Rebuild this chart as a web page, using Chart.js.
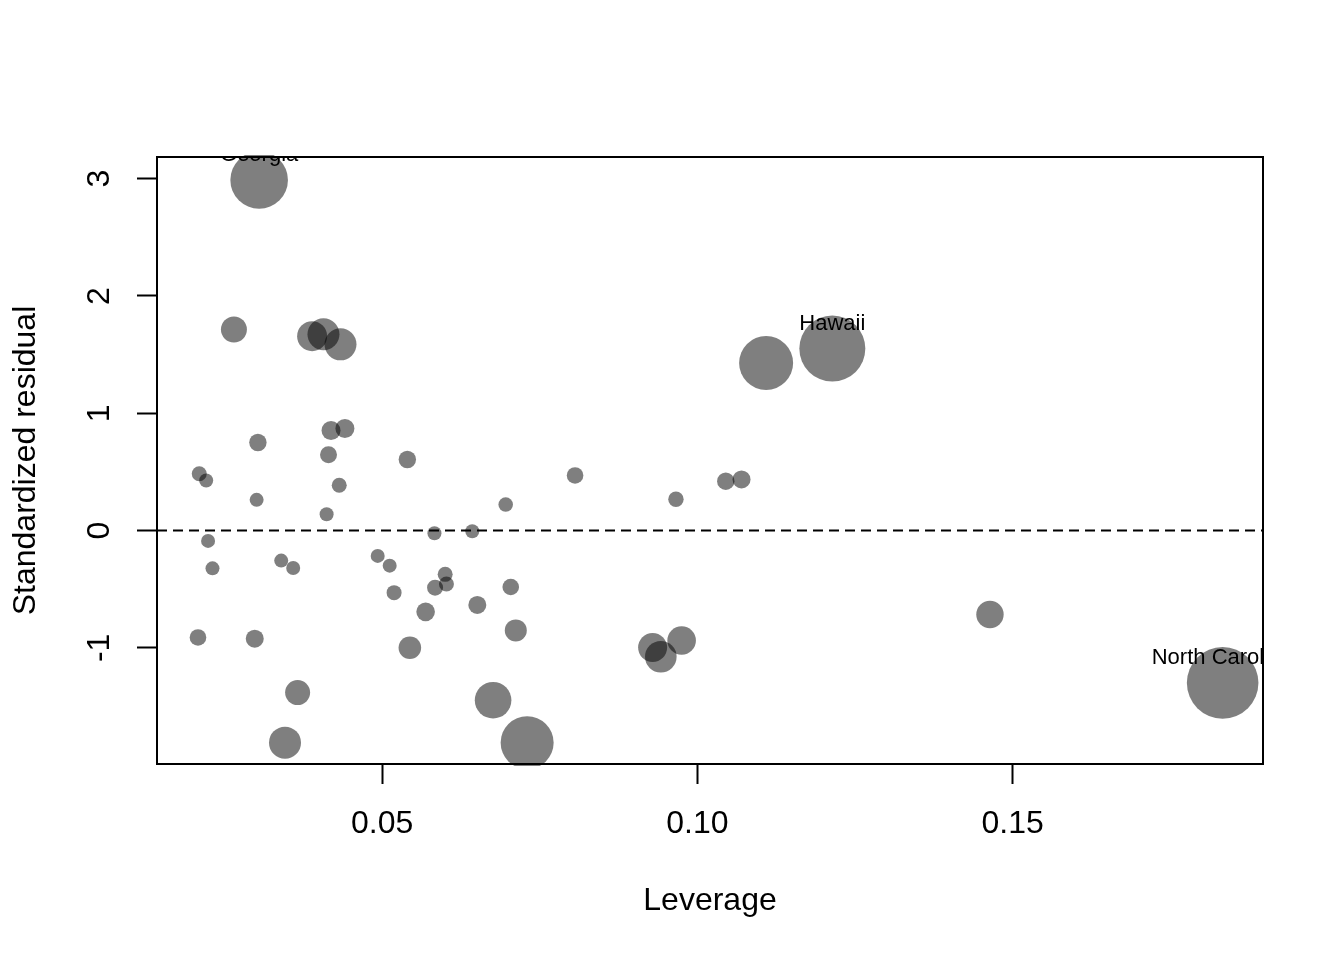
<!DOCTYPE html>
<html>
<head>
<meta charset="utf-8">
<script src="https://cdn.jsdelivr.net/npm/chart.js@4/dist/chart.umd.min.js"></script>
<style>
  html, body { margin: 0; padding: 0; background: #fff; }
  #wrap { width: 1344px; height: 960px; }
</style>
</head>
<body>
<div id="wrap"><canvas id="influence" width="1344" height="960"></canvas></div>
<script>
// leverage (hat values), standardized residuals and bubble size (Cook's distance) per state
const leverage = [
  0.0305, 0.0265, 0.0389, 0.0407, 0.0434, 0.0303, 0.0419, 0.0441, 0.0415, 0.0540,
  0.0210, 0.0221, 0.0301, 0.0432, 0.0412, 0.0224, 0.0231, 0.0340, 0.0359, 0.0583,
  0.0643, 0.0493, 0.0512, 0.0519, 0.0600, 0.0602, 0.0584, 0.0704, 0.0569, 0.0651,
  0.0712, 0.0544, 0.0208, 0.0298, 0.0366, 0.0346, 0.0676, 0.0730, 0.0806, 0.0696,
  0.0966, 0.1045, 0.1070, 0.0929, 0.0942, 0.0975, 0.1109, 0.1214, 0.1464, 0.1833
];
const stdResid = [
  2.989, 1.714, 1.657, 1.674, 1.588, 0.751, 0.854, 0.871, 0.646, 0.606,
  0.484, 0.427, 0.262, 0.387, 0.139, -0.088, -0.322, -0.256, -0.319, -0.023,
  -0.006, -0.216, -0.299, -0.529, -0.373, -0.455, -0.487, -0.481, -0.693, -0.634,
  -0.851, -0.999, -0.911, -0.922, -1.381, -1.808, -1.446, -1.808, 0.470, 0.222,
  0.267, 0.421, 0.436, -0.997, -1.076, -0.937, 1.429, 1.552, -0.715, -1.298
];
const cookSize = [
  28.8, 13, 15, 16, 16, 8.7, 9.5, 9.5, 8.5, 8.7,
  7.5, 7, 7, 7.5, 7, 7, 7, 7, 7, 7,
  7, 7, 7, 7.5, 7.5, 7.5, 8, 8.3, 9.3, 9,
  11, 11.3, 8.3, 9, 12.5, 16, 18.3, 26.5, 8.3, 7.3,
  7.7, 8.7, 9, 14.5, 15.8, 14.3, 27, 33, 13.7, 35.8
];
const labelNames = ['Georgia', 'Hawaii', 'North Carolina'];
const labelIndex = [0, 47, 49];

const xTicks = [0.05, 0.10, 0.15];
const yTicks = [-1, 0, 1, 2, 3];
const xRange = [0.0143, 0.1897];
const yRange = [-1.99, 3.185];
const refLine = 0;

const FONT = '"Liberation Sans", Arial, Helvetica, sans-serif';
Chart.defaults.font.family = FONT;
Chart.defaults.color = '#000';

const points = leverage.map((x, i) => ({ x: x, y: stdResid[i], r: cookSize[i] }));

const extras = {
  id: 'extras',
  afterDatasetsDraw(chart) {
    const ctx = chart.ctx;
    const area = chart.chartArea;
    const yPix = chart.scales.y.getPixelForValue(refLine);

    ctx.save();
    ctx.strokeStyle = '#000';
    ctx.lineWidth = 2;
    ctx.setLineDash([10, 6]);
    ctx.beginPath();
    ctx.moveTo(area.left, yPix);
    ctx.lineTo(area.right, yPix);
    ctx.stroke();
    ctx.restore();

    // point labels, clipped to the plot region like R does
    const meta = chart.getDatasetMeta(0);
    ctx.save();
    ctx.beginPath();
    ctx.rect(area.left, area.top, area.right - area.left, area.bottom - area.top);
    ctx.clip();
    ctx.fillStyle = '#000';
    ctx.font = '22px ' + FONT;
    ctx.textAlign = 'center';
    ctx.textBaseline = 'middle';
    labelIndex.forEach((idx, k) => {
      const el = meta.data[idx];
      ctx.fillText(labelNames[k], el.x, el.y - 25);
    });
    ctx.restore();
  },
  afterDraw(chart) {
    const ctx = chart.ctx;
    const a = chart.chartArea;
    ctx.save();
    ctx.strokeStyle = '#000';
    ctx.lineWidth = 2;
    ctx.strokeRect(a.left, a.top, a.right - a.left, a.bottom - a.top);
    ctx.restore();
  }
};

new Chart(document.getElementById('influence'), {
  type: 'bubble',
  data: {
    datasets: [{
      label: 'states',
      data: points,
      backgroundColor: 'rgba(0, 0, 0, 0.5)',
      borderWidth: 0,
      hoverRadius: 0,
      hoverBorderWidth: 0,
      clip: 2
    }]
  },
  options: {
    responsive: false,
    animation: false,
    devicePixelRatio: 1,
    layout: { padding: { top: 157, right: 81, bottom: 0, left: 0 } },
    plugins: {
      legend: { display: false },
      tooltip: { enabled: false }
    },
    scales: {
      x: {
        type: 'linear',
        min: xRange[0],
        max: xRange[1],
        afterBuildTicks: s => { s.ticks = xTicks.map(v => ({ value: v })); },
        afterFit: s => { s.height = 196; },
        ticks: {
          callback: v => v.toFixed(2),
          font: { size: 32 },
          color: '#000',
          padding: 21,
          maxRotation: 0,
          autoSkip: false
        },
        grid: { drawOnChartArea: false, tickLength: 20, tickColor: '#000', tickWidth: 2 },
        border: { display: false },
        title: {
          display: true,
          text: 'Leverage',
          font: { size: 32 },
          color: '#000',
          padding: { top: 0, bottom: 40 }
        }
      },
      y: {
        type: 'linear',
        min: yRange[0],
        max: yRange[1],
        afterBuildTicks: s => { s.ticks = yTicks.map(v => ({ value: v })); },
        afterFit: s => { s.width = 157; },
        ticks: {
          callback: v => String(v),
          font: { size: 32 },
          color: '#000',
          padding: 23,
          minRotation: 90,
          maxRotation: 90,
          crossAlign: 'center',
          autoSkip: false
        },
        grid: { drawOnChartArea: false, tickLength: 20, tickColor: '#000', tickWidth: 2 },
        border: { display: false },
        title: {
          display: true,
          text: 'Standardized residual',
          font: { size: 32 },
          color: '#000',
          padding: { top: 7, bottom: 0 }
        }
      }
    }
  },
  plugins: [extras]
});
</script>
</body>
</html>
